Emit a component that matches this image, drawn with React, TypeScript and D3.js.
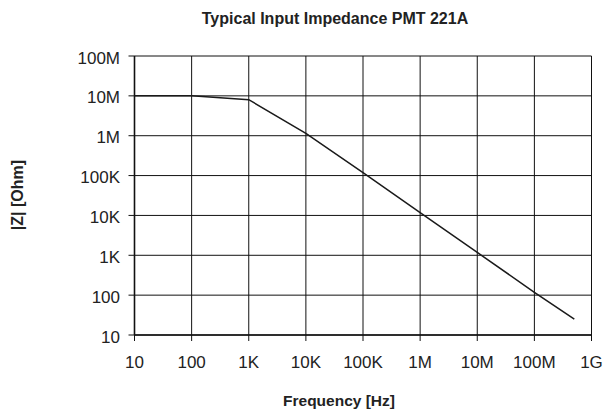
import React from 'react'
import * as d3 from 'd3'

const freqs = [10, 100, 1e3, 1e4, 1e5, 1e6, 1e7, 1e8, 5e8]
const impedance = [1e7, 1e7, 8e6, 1.15e6, 1.18e5, 1.18e4, 1.18e3, 118, 25]
const xTicks = [10, 100, 1e3, 1e4, 1e5, 1e6, 1e7, 1e8, 1e9]
const xTickLabels = ['10', '100', '1K', '10K', '100K', '1M', '10M', '100M', '1G']
const yTicks = [10, 100, 1e3, 1e4, 1e5, 1e6, 1e7, 1e8]
const yTickLabels = ['10', '100', '1K', '10K', '100K', '1M', '10M', '100M']

const App = () => {
  let width = 605
  let height = 414
  let left = 134.5
  let right = 591.5
  let top = 56
  let bottom = 335

  let xScale = d3.scaleLog().domain([10, 1e9]).range([left, right])
  let yScale = d3.scaleLog().domain([10, 1e8]).range([bottom, top])

  let line = d3.line<number>()
    .x((d, i) => xScale(freqs[i]))
    .y(d => yScale(d))

  let font = 'Arial, "Liberation Sans", sans-serif'

  return (
    <svg width={width} height={height}
      style={{ position: 'absolute', left: 0, top: 0, fontFamily: font }}>
      <rect width={width} height={height} fill="#fff" />
      <text x={335} y={23.5} textAnchor="middle" fontSize={16} fontWeight="bold" fill="#222">
        Typical Input Impedance PMT 221A
      </text>

      {/* grid */}
      {xTicks.map((t, i) => (
        <line key={'gx' + i} x1={xScale(t)} x2={xScale(t)} y1={top} y2={bottom + 6}
          stroke="#111" strokeWidth={1} />
      ))}
      {yTicks.map((t, i) => (
        <line key={'gy' + i} x1={left - 6} x2={right} y1={yScale(t)} y2={yScale(t)}
          stroke="#111" strokeWidth={1} />
      ))}
      <line x1={left} x2={right} y1={bottom} y2={bottom} stroke="#111" strokeWidth={1.6} />
      <line x1={left} x2={left} y1={top} y2={bottom} stroke="#111" strokeWidth={1.6} />

      <path d={line(impedance) || ''} fill="none" stroke="#1a1a1a" strokeWidth={1.5} />

      {/* tick labels */}
      {xTicks.map((t, i) => (
        <text key={'lx' + i} x={xScale(t)} y={368} textAnchor="middle" fontSize={17} fill="#222">
          {xTickLabels[i]}
        </text>
      ))}
      {yTicks.map((t, i) => (
        <text key={'ly' + i} x={120} y={yScale(t) + 7.5} textAnchor="end" fontSize={17} fill="#222">
          {yTickLabels[i]}
        </text>
      ))}

      <text x={339} y={406} textAnchor="middle" fontSize={15.5} fontWeight="bold" fill="#222">
        Frequency [Hz]
      </text>
      <text transform="translate(22.7,195) rotate(-90)" textAnchor="middle" fontSize={16}
        fontWeight="bold" fill="#222">
        |Z| [Ohm]
      </text>
    </svg>
  )
}

export default App
